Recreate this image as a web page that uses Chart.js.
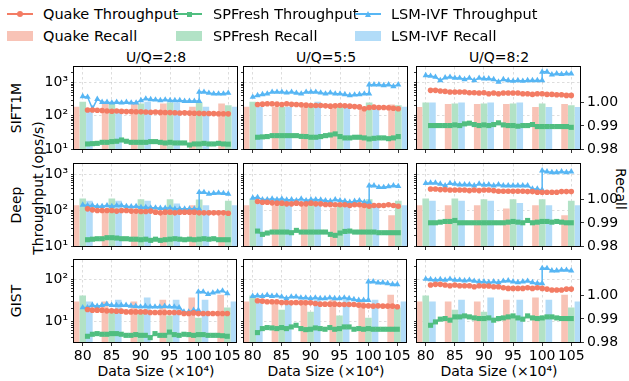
<!DOCTYPE html>
<html>
<head>
<meta charset="utf-8">
<title>Throughput and recall vs data size</title>
<script src="https://cdn.jsdelivr.net/npm/chart.js@4.4.1/dist/chart.umd.min.js"></script>
<style>
  body { margin: 0; background: #fff; }
  #fig { position: relative; width: 629px; height: 381px; overflow: hidden; background: #fff;
         font-family: "DejaVu Sans", sans-serif; font-size: 14px; color: #000; }
  #fig canvas { position: absolute; }
  .t { position: absolute; white-space: nowrap; line-height: 1; transform: translate(-50%, -50%); }
  .tl { position: absolute; white-space: nowrap; line-height: 1; transform: translateY(-50%); font-size: 14.5px; }
  .up { transform: translate(-50%, -50%) rotate(-90deg); }
  .down { transform: translate(-50%, -50%) rotate(90deg); }
  .h { position: absolute; }
</style>
</head>
<body>
<div id="fig">
  <div class="t" style="left:156px;top:57px">U/Q=2:8</div>
  <div class="t" style="left:326px;top:57px">U/Q=5:5</div>
  <div class="t" style="left:499px;top:57px">U/Q=8:2</div>
  <div class="t up" style="left:16px;top:108px">SIFT1M</div>
  <div class="t up" style="left:16px;top:205px">Deep</div>
  <div class="t up" style="left:16px;top:301px">GIST</div>
  <div class="t up" style="left:38px;top:188px">Throughput (ops/s)</div>
  <div class="t down" style="left:621px;top:189px">Recall</div>
  <div class="t" style="left:156px;top:371px">Data Size (×10⁴)</div>
  <div class="t" style="left:326px;top:371px">Data Size (×10⁴)</div>
  <div class="t" style="left:499px;top:371px">Data Size (×10⁴)</div>
</div>
<script>
const FONT = '"DejaVu Sans", sans-serif';
const TICK_SIZE = 14;

// x positions of the throughput samples (data size, x10^4)
const sizes = [80, 80.83, 81.67, 82.5, 83.33, 84.17, 85, 85.83, 86.67, 87.5, 88.33, 89.17, 90, 90.83, 91.67,
  92.5, 93.33, 94.17, 95, 95.83, 96.67, 97.5, 98.33, 99.17, 100, 100.83, 101.67, 102.5, 103.33, 104.17, 105];
// LSM-IVF has a step at 100 (two samples at the same size)
const lsmSizes = [80, 80.83, 81.67, 82.5, 83.33, 84.17, 85, 85.83, 86.67, 87.5, 88.33, 89.17, 90, 90.83, 91.67,
  92.5, 93.33, 94.17, 95, 95.83, 96.67, 97.5, 98.33, 99.17, 100, 100, 100.83, 101.67, 102.5, 103.33, 104.17, 105];
const recallSizes = [80, 85, 90, 95, 100, 105];
const xTicks = [80, 85, 90, 95, 100, 105];
const recallTicks = [0.98, 0.99, 1.00];
const ratios = ['2:8', '5:5', '8:2'];
const datasetNames = ['SIFT1M', 'Deep', 'GIST'];

// throughput (ops/s)
const siftQuake28 = [150, 150, 148, 145, 140, 138, 140, 136, 134, 135, 133, 132, 130, 128, 130, 127, 126, 125, 124, 122, 123, 121, 120, 119, 118, 118, 117, 116, 116, 115];
const siftSpfresh28 = [14.2, 14.5, 14.8, 15.9, 15.9, 16.7, 17.1, 18.7, 17.1, 15.9, 15.9, 15.9, 15.9, 16.7, 16.7, 15.9, 15.2, 15.9, 15.2, 15.2, 15.2, 13.2, 14.2, 14.2, 14.8, 14.2, 14.2, 14.8, 14.2, 14.0];
const siftLsm28 = [385, 368, 165, 320, 259, 259, 248, 259, 248, 259, 248, 248, 292, 327, 312, 306, 292, 306, 292, 292, 292, 278, 278, 278, 278, 521, 521, 486, 464, 464, 464, 486];
const siftQuake55 = [220, 225, 231, 231, 225, 220, 231, 222, 220, 215, 210, 206, 206, 206, 200, 196, 200, 206, 200, 196, 190, 186, 164, 178, 183, 178, 178, 175, 170, 164];
const siftSpfresh55 = [22.6, 23.2, 23.7, 25.3, 25.3, 25.3, 25.3, 25.3, 25.3, 24, 23.7, 22.6, 22.6, 23.7, 25.3, 26.5, 28.5, 23.7, 21.6, 21.6, 22.6, 22.6, 21.6, 20.1, 21.0, 21.6, 21.6, 20.5, 21.6, 23.7];
const siftLsm55 = [368, 413, 443, 464, 521, 521, 521, 497, 521, 486, 464, 521, 521, 521, 497, 464, 497, 464, 464, 443, 413, 433, 443, 464, 464, 870, 870, 870, 830, 870, 776, 870];
const siftQuake82 = [586, 586, 559, 545, 521, 521, 521, 521, 497, 497, 486, 497, 464, 486, 464, 486, 486, 486, 486, 464, 464, 443, 464, 464, 443, 443, 433, 433, 413, 413];
const siftSpfresh82 = [50.9, 50.9, 50.9, 50.9, 50.9, 53.3, 50.9, 57.2, 60, 54.6, 50.9, 53.3, 50.9, 54.6, 61.5, 53.3, 50.9, 50.9, 48.6, 50.9, 50.9, 54.6, 47.5, 47.5, 47.5, 47.5, 47.5, 47.5, 47.5, 45];
const siftLsm82 = [1660, 1585, 1480, 1170, 1415, 1480, 1380, 1380, 1260, 1380, 1170, 1380, 1320, 1320, 1260, 1050, 1260, 1170, 1120, 1170, 1120, 1170, 1170, 1170, 1170, 2120, 2120, 1750, 1880, 1790, 1880, 1880];

const deepQuake28 = [110, 103, 98.9, 98.9, 98.9, 98.9, 95, 98.9, 98.9, 95, 95, 92.9, 92.9, 95, 88.8, 85, 88.8, 88.8, 85, 88.8, 88.8, 88.8, 88.8, 85, 85, 85, 85, 85, 85, 83];
const deepSpfresh28 = [15, 15.5, 16, 16, 17.1, 17.1, 16.7, 16, 16, 15.5, 15.5, 15, 15.5, 14.4, 15.5, 14.4, 15, 15.5, 16, 15.5, 15, 15.5, 15, 15.5, 16, 15.5, 16, 15, 15, 15];
const deepLsm28 = [142, 136, 136, 130, 130, 136, 130, 136, 136, 130, 127, 130, 122, 122, 118, 118, 115, 115, 118, 110, 110, 110, 110, 110, 110, 321, 321, 288, 300, 307, 300, 288];
const deepQuake55 = [177, 169, 169, 162, 159, 159, 152, 152, 159, 152, 152, 159, 152, 152, 145, 145, 143, 143, 143, 136, 143, 143, 136, 130, 136, 136, 136, 143, 136, 130];
const deepSpfresh55 = [26.2, 21.2, 23.1, 24.6, 24.6, 24.6, 24.6, 23.6, 27.4, 24.6, 24.6, 24.6, 24.6, 24.6, 24.6, 21.2, 19.9, 23.1, 25.6, 26.2, 24.6, 24.6, 24.6, 24.6, 24.6, 23.6, 23.6, 23.6, 23.6, 23.6];
const deepLsm55 = [223, 233, 200, 200, 210, 200, 210, 196, 200, 188, 210, 188, 200, 200, 196, 188, 180, 200, 188, 180, 169, 180, 188, 169, 169, 493, 493, 444, 444, 464, 493, 472];
const deepQuake82 = [398, 398, 381, 381, 373, 373, 373, 373, 357, 373, 357, 373, 373, 357, 342, 342, 342, 342, 342, 342, 335, 335, 321, 321, 321, 321, 321, 335, 335, 335];
const deepSpfresh82 = [44.8, 44.8, 46.6, 48.8, 48.8, 52, 44.8, 44.8, 44.8, 44.8, 44.8, 44.8, 44.8, 44.8, 44.8, 44.8, 46.6, 48.8, 46.6, 44.8, 52, 44.8, 46.6, 48.8, 48.8, 46.6, 48.8, 46.6, 44.8, 44.8];
const deepLsm82 = [573, 585, 585, 549, 493, 573, 549, 526, 526, 526, 493, 549, 515, 526, 493, 526, 493, 493, 493, 493, 493, 493, 398, 398, 373, 1295, 1213, 1161, 1161, 1213, 1161, 1213];

const gistQuake28 = [19.1, 18.4, 18.4, 18.4, 17.7, 17.7, 17.4, 17.4, 16.7, 16.7, 16.7, 16.7, 16.7, 16.1, 16.1, 16.1, 16.1, 16.1, 16.1, 16.1, 15.3, 15.3, 15.8, 15.3, 15.3, 15.3, 15.3, 15.3, 15.3, 15.3];
const gistSpfresh28 = [4.37, 4.88, 5.06, 4.88, 4.88, 5.06, 5.06, 4.88, 4.6, 4.6, 4.79, 4.6, 4.6, 4.06, 5.06, 4.6, 4.6, 5.5, 4.79, 4.6, 4.88, 4.79, 4.6, 4.79, 4.79, 4.6, 4.6, 4.6, 4.5, 4.37];
const gistLsm28 = [21.3, 21.3, 24.2, 22.9, 24.2, 25.6, 24.2, 24.2, 24.2, 24.2, 23.3, 22.9, 22.1, 22.9, 22.1, 22.1, 22.1, 22.9, 22.1, 22.1, 21.3, 16.7, 16.7, 18.4, 18.4, 50.6, 50.6, 44.5, 47.9, 50.6, 53.5, 46.1];
const gistQuake55 = [30.8, 30.2, 29.1, 29.1, 29.1, 28.1, 28.1, 27.5, 28.1, 27.5, 27.5, 27.5, 26.5, 25.6, 25.6, 25.6, 25.6, 25.1, 25.1, 25.1, 25.1, 24.2, 23.3, 23.3, 22.9, 23.3, 22.9, 22.9, 22.9, 22.1];
const gistSpfresh55 = [5.35, 6.67, 7.05, 6.92, 6.67, 7.05, 6.67, 7.31, 8.0, 6.67, 6.3, 6.43, 6.92, 6.67, 6.43, 7.05, 6.43, 6.67, 7.31, 7.31, 6.43, 6.67, 6.43, 6.67, 6.43, 6.43, 6.43, 6.43, 6.43, 6.43];
const gistLsm55 = [39.8, 40.6, 39.8, 42.1, 39.8, 40.6, 38.4, 35, 38.4, 38.4, 36.3, 36.3, 35, 36.3, 35, 35, 36.3, 35, 35, 36.3, 35, 33.1, 31.9, 31.9, 31.9, 87.9, 87.9, 83.2, 83.2, 80.2, 75.9, 75.9];
const gistQuake82 = [73.1, 75.9, 75.9, 73.1, 70.5, 73.1, 70.5, 70.5, 70.5, 66.7, 70.5, 69.2, 69.2, 66.7, 66.7, 63.1, 60.8, 60.8, 60.8, 60.8, 63.1, 60.8, 63.1, 60.8, 58.6, 55.5, 55.5, 55.5, 58.6, 58.6];
const gistSpfresh82 = [8.0, 9.64, 11.2, 11.6, 10.6, 12.7, 12.7, 13.4, 12.7, 12.0, 11.6, 11.6, 12.0, 10.6, 11.6, 12.0, 12.7, 13.4, 12.0, 11.2, 13.4, 12.0, 11.6, 12.0, 12.7, 12.7, 12.0, 11.6, 11.6, 11.6];
const gistLsm82 = [102, 100, 96.4, 100, 96.4, 102, 96.4, 96.4, 92.9, 96.4, 91.2, 87.9, 87.9, 84.7, 87.9, 84.7, 91.2, 92.9, 87.9, 84.7, 87.9, 91.2, 84.7, 80.2, 80.2, 184, 184, 161, 161, 167, 167, 161];

// recall at 80, 85, ..., 105
const siftQuakeRecall28 = [0.9981, 0.9996, 0.9993, 0.9996, 0.9981, 0.9996];
const siftSpfreshRecall28 = [1.0003, 0.9996, 0.9996, 1.0, 1.0, 0.9988];
const siftLsmRecall28 = [0.9959, 0.9967, 1.0003, 1.0, 0.9981, 0.9981];
const siftQuakeRecall55 = [0.9981, 0.9981, 0.9981, 0.9977, 0.9981, 0.9991];
const siftSpfreshRecall55 = [1.0003, 0.9981, 0.9981, 0.9981, 1.0, 0.9988];
const siftLsmRecall55 = [0.9981, 0.9981, 1.0003, 0.9981, 0.9978, 0.9981];
const siftQuakeRecall82 = [0.998, 0.9993, 0.9993, 0.9993, 0.998, 0.9993];
const siftSpfreshRecall82 = [1.0, 0.9996, 0.9996, 0.9996, 0.9996, 0.9988];
const siftLsmRecall82 = [1.0, 1.0, 1.0, 1.0, 0.998, 0.998];

const deepQuakeRecall28 = [0.9975, 0.9951, 0.9951, 0.9944, 0.9975, 0.9932];
const deepSpfreshRecall28 = [1.0004, 1.0004, 1.0001, 1.0001, 1.0, 0.9994];
const deepLsmRecall28 = [0.9994, 0.9994, 0.9994, 0.9983, 0.9975, 0.9975];
const deepQuakeRecall55 = [0.9975, 0.9975, 0.9975, 0.9964, 0.9975, 0.9932];
const deepSpfreshRecall55 = [1.0004, 0.9997, 0.9997, 0.9975, 1.0001, 0.9994];
const deepLsmRecall55 = [0.9983, 0.9975, 0.9975, 0.999, 0.9975, 0.9975];
const deepQuakeRecall82 = [0.9975, 0.9975, 0.9975, 0.9961, 0.9975, 0.9932];
const deepSpfreshRecall82 = [1.0004, 1.0004, 1.0001, 1.0001, 1.0001, 0.9994];
const deepLsmRecall82 = [0.9994, 0.9994, 0.9994, 0.9985, 0.9975, 0.9975];

const gistQuakeRecall28 = [0.9974, 0.9974, 0.9974, 0.9981, 0.9991, 1.0003];
const gistSpfreshRecall28 = [1.0, 0.9933, 0.993, 0.9913, 0.9904, 0.9948];
const gistLsmRecall28 = [0.9974, 0.9981, 0.9991, 0.9981, 0.9981, 0.9974];
const gistQuakeRecall55 = [0.9974, 0.9974, 0.9981, 0.9981, 0.9981, 1.0003];
const gistSpfreshRecall55 = [1.0, 0.9938, 0.993, 0.9913, 0.9904, 0.9948];
const gistLsmRecall55 = [0.9974, 0.997, 0.9981, 0.9981, 0.9981, 0.9974];
const gistQuakeRecall82 = [0.9974, 0.9974, 0.9974, 0.9981, 0.9991, 1.0003];
const gistSpfreshRecall82 = [1.0, 0.9938, 0.993, 0.9913, 0.9904, 0.9948];
const gistLsmRecall82 = [0.9974, 0.9981, 0.9991, 0.9981, 0.9981, 0.9974];

// axis limits per row
const throughputMin = [10, 10, 3.19];
const throughputMax = [2970, 1990, 290];
const recallMin = 0.98, recallMax = 1.0155;
const xMin = 78.5, xMax = 106.5;

const panels = [
  [
    [siftQuake28, siftSpfresh28, siftLsm28, siftQuakeRecall28, siftSpfreshRecall28, siftLsmRecall28],
    [siftQuake55, siftSpfresh55, siftLsm55, siftQuakeRecall55, siftSpfreshRecall55, siftLsmRecall55],
    [siftQuake82, siftSpfresh82, siftLsm82, siftQuakeRecall82, siftSpfreshRecall82, siftLsmRecall82]
  ],
  [
    [deepQuake28, deepSpfresh28, deepLsm28, deepQuakeRecall28, deepSpfreshRecall28, deepLsmRecall28],
    [deepQuake55, deepSpfresh55, deepLsm55, deepQuakeRecall55, deepSpfreshRecall55, deepLsmRecall55],
    [deepQuake82, deepSpfresh82, deepLsm82, deepQuakeRecall82, deepSpfreshRecall82, deepLsmRecall82]
  ],
  [
    [gistQuake28, gistSpfresh28, gistLsm28, gistQuakeRecall28, gistSpfreshRecall28, gistLsmRecall28],
    [gistQuake55, gistSpfresh55, gistLsm55, gistQuakeRecall55, gistSpfreshRecall55, gistLsmRecall55],
    [gistQuake82, gistSpfresh82, gistLsm82, gistQuakeRecall82, gistSpfreshRecall82, gistLsmRecall82]
  ]
];

const QUAKE = '#F37C64', QUAKE_BAR = '#F8C3B6';
const SPF = '#50BE80', SPF_BAR = '#B2E2C6';
const LSM = '#57B6F4', LSM_BAR = '#B2DCF8';
const GRID = 'rgba(160,160,160,0.45)';

// panel geometry
const COL_X = [74, 244, 417], ROW_Y = [67, 164, 260];
const PW = 163, PH = 82;
const LEFT_W = 44, RIGHT_W = 50, PAD_T = 12;

const SUP = { '0': '⁰', '1': '¹', '2': '²', '3': '³', '4': '⁴' };
const isDecade = v => Math.abs(Math.log10(v) - Math.round(Math.log10(v))) < 1e-6;

function logTicks(min, max) {
  const out = [];
  for (let e = Math.floor(Math.log10(min)); e <= Math.ceil(Math.log10(max)); e++) {
    for (let m = 1; m <= 9; m++) {
      const v = m * Math.pow(10, e);
      if (v >= min && v <= max) out.push({ value: v });
    }
  }
  return out;
}

const frame = {
  id: 'frame',
  afterDraw(chart) {
    const { ctx, chartArea: a } = chart;
    ctx.save();
    ctx.strokeStyle = '#000';
    ctx.lineWidth = 1;
    ctx.strokeRect(a.left - 0.5, a.top - 0.5, a.right - a.left + 1, a.bottom - a.top + 1);
    ctx.restore();
  }
};

function lineSet(label, ys, xs, color, style, radius) {
  return {
    type: 'line', label, yAxisID: 'y', order: 0,
    data: ys.map((y, i) => ({ x: xs[i], y })),
    borderColor: color, backgroundColor: color, borderWidth: 1.5,
    pointStyle: style, pointRadius: radius, pointBorderWidth: 0,
    pointBackgroundColor: color, tension: 0, fill: false
  };
}

function barSet(label, ys, shift, color) {
  return {
    type: 'bar', label, yAxisID: 'y2', order: 1,
    data: ys.map((y, i) => ({ x: recallSizes[i] + shift, y })),
    backgroundColor: color, borderWidth: 0, barThickness: 6, grouped: false
  };
}

const fig = document.getElementById('fig');

panels.forEach((row, r) => {
  row.forEach((p, c) => {
    const [quake, spf, lsm, quakeR, spfR, lsmR] = p;
    const rightW = c === 2 ? RIGHT_W : 6;
    const bottomH = r === 2 ? 34 : 12;
    const canvas = document.createElement('canvas');
    canvas.width = LEFT_W + PW + rightW;
    canvas.height = PAD_T + PH + bottomH;
    canvas.style.left = (COL_X[c] - LEFT_W) + 'px';
    canvas.style.top = (ROW_Y[r] - PAD_T) + 'px';
    fig.appendChild(canvas);

    new Chart(canvas, {
      type: 'line',
      data: {
        datasets: [
          lineSet('Quake Throughput', quake, sizes.slice(1), QUAKE, 'circle', 2.8),
          lineSet('SPFresh Throughput', spf, sizes.slice(1), SPF, 'rect', 3.6),
          lineSet('LSM-IVF Throughput', lsm, lsmSizes, LSM, 'triangle', 3.6),
          barSet('Quake Recall', quakeR, -1.15, QUAKE_BAR),
          barSet('SPFresh Recall', spfR, 0, SPF_BAR),
          barSet('LSM-IVF Recall', lsmR, 1.15, LSM_BAR)
        ]
      },
      options: {
        responsive: false,
        animation: false,
        events: [],
        layout: { autoPadding: false, padding: { top: PAD_T, right: c === 2 ? 0 : rightW, left: 0, bottom: 0 } },
        plugins: { legend: { display: false }, tooltip: { enabled: false } },
        scales: {
          x: {
            type: 'linear', min: xMin, max: xMax, offset: false,
            afterBuildTicks: s => { s.ticks = xTicks.map(v => ({ value: v })); },
            afterFit: s => { s.height = bottomH; },
            ticks: { autoSkip: false, maxRotation: 0, padding: 2, color: '#000',
                     font: { family: FONT, size: TICK_SIZE },
                     callback: v => r === 2 ? String(v) : '' },
            grid: { offset: false, color: GRID, lineWidth: 0.8, tickLength: 4, tickColor: '#000', tickWidth: 0.8, tickBorderDash: [] },
            border: { display: false, dash: [2.5, 2.5] }
          },
          y: {
            type: 'logarithmic', position: 'left', min: throughputMin[r], max: throughputMax[r],
            afterBuildTicks: s => { s.ticks = logTicks(throughputMin[r], throughputMax[r]); },
            afterFit: s => { s.width = LEFT_W; },
            ticks: { autoSkip: false, padding: 3, color: '#000',
                     font: { family: FONT, size: TICK_SIZE },
                     callback: v => (c === 0 && isDecade(v)) ? '10' + SUP[String(Math.round(Math.log10(v)))] : '' },
            grid: {
              color: ctx => (ctx.tick && isDecade(ctx.tick.value)) ? GRID : 'rgba(0,0,0,0)',
              lineWidth: 0.8, tickLength: 3, tickColor: '#000', tickWidth: 0.8, tickBorderDash: []
            },
            border: { display: false, dash: [2.5, 2.5] }
          },
          y2: {
            type: 'linear', position: 'right', min: recallMin, max: recallMax, display: c === 2,
            afterBuildTicks: s => { s.ticks = recallTicks.map(v => ({ value: v })); },
            afterFit: s => { s.width = c === 2 ? RIGHT_W : 0; },
            ticks: { padding: 3, color: '#000', font: { family: FONT, size: TICK_SIZE },
                     callback: v => v.toFixed(2) },
            grid: { drawOnChartArea: false, tickLength: 4, tickColor: '#000', tickWidth: 0.8 },
            border: { display: false }
          }
        }
      },
      plugins: [frame]
    });
  });
});

// legend (two rows: throughput lines, recall bars)
const legendX = [7, 176, 355];
const legendTextX = [43, 213, 391];
const legendY = [14, 36];
const legendItems = [
  ['Quake Throughput', 'SPFresh Throughput', 'LSM-IVF Throughput'],
  ['Quake Recall', 'SPFresh Recall', 'LSM-IVF Recall']
];
const legendLine = [QUAKE, SPF, LSM], legendBar = [QUAKE_BAR, SPF_BAR, LSM_BAR];

function addDiv(cls, css, text) {
  const d = document.createElement('div');
  d.className = cls;
  d.style.cssText = css;
  if (text) d.textContent = text;
  fig.appendChild(d);
}

legendItems.forEach((items, row) => {
  items.forEach((label, k) => {
    const x = legendX[k], y = legendY[row];
    if (row === 0) {
      const col = legendLine[k];
      addDiv('h', `left:${x}px;top:${y - 0.75}px;width:26px;height:1.5px;background:${col}`);
      if (k === 0) addDiv('h', `left:${x + 10}px;top:${y - 3}px;width:6px;height:6px;border-radius:50%;background:${col}`);
      if (k === 1) addDiv('h', `left:${x + 10.5}px;top:${y - 2.5}px;width:5px;height:5px;background:${col}`);
      if (k === 2) addDiv('h', `left:${x + 9.5}px;top:${y - 3.5}px;width:0;height:0;border-left:3.5px solid transparent;border-right:3.5px solid transparent;border-bottom:6px solid ${col}`);
    } else {
      addDiv('h', `left:${x}px;top:${y - 5}px;width:26px;height:10px;background:${legendBar[k]}`);
    }
    addDiv('tl', `left:${legendTextX[k]}px;top:${y}px`, label);
  });
});
</script>
</body>
</html>
